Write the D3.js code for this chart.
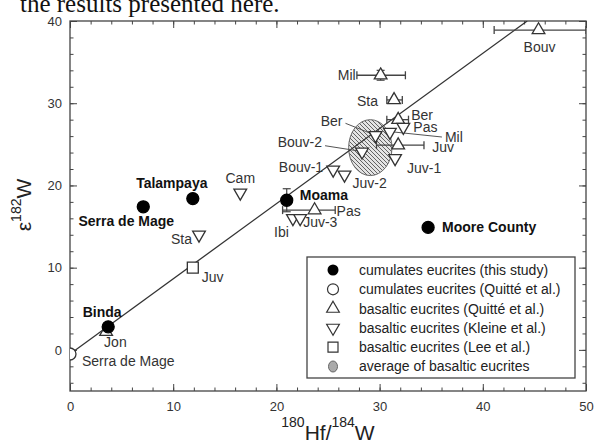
<!DOCTYPE html>
<html lang="en">
<head>
<meta charset="UTF-8">
<title>Hf-W eucrites</title>
<script src="https://cdn.jsdelivr.net/npm/d3@7"></script>
<style>
  body { margin: 0; background: #fff; }
  svg { display: block; font-family: "Liberation Sans", Arial, sans-serif; }
  .tick text { font-size: 13px; fill: #333; }
  .tick line, .domain { stroke: #444; }
  .lbl { font-size: 14px; fill: #333; }
  .lbl.bold { font-weight: bold; fill: #111; }
</style>
</head>
<body>
<div id="chart"></div>
<script>
// --- data (180Hf/184W, epsilon 182W) ---
// cumulate eucrites, this study
const cumNames = ["Binda", "Serra de Mage", "Talampaya", "Moama", "Moore County"];
const cumHf = [3.7, 7.1, 11.9, 21.0, 34.7];
const cumW = [2.8, 17.4, 18.4, 18.2, 14.9];
const cumWErr = [0, 0, 0, 1.4, 0];

// cumulate eucrites, Quitte et al.
const cumQNames = ["Serra de Mage"];
const cumQHf = [0];
const cumQW = [-0.5];

// basaltic eucrites, Quitte et al.
const basQNames = ["Jon", "Pas", "Juv", "Ber", "Sta", "Mil", "Bouv"];
const basQHf = [3.5, 23.7, 31.8, 31.8, 31.4, 30.1, 45.4];
const basQW = [2.2, 17.0, 24.9, 28.0, 30.4, 33.4, 38.9];
const basQHfLo = [3.5, 20.6, 29.7, 30.7, 30.7, 27.8, 41.1];
const basQHfHi = [3.5, 25.7, 34.3, 32.8, 32.2, 32.5, 50.0];
const basQWErr = [0, 0, 0, 0, 0, 0.6, 0];

// basaltic eucrites, Kleine et al.
const basKNames = ["Sta", "Cam", "Ibi", "Juv-3", "Bouv-1", "Juv-2", "Bouv-2", "Ber", "Mil", "Pas", "Juv-1"];
const basKHf = [12.5, 16.5, 21.6, 22.3, 25.5, 26.6, 28.3, 29.6, 31.0, 32.3, 31.5];
const basKW = [14.0, 19.1, 16.0, 16.0, 21.9, 21.3, 24.1, 26.1, 26.5, 27.1, 23.3];

// basaltic eucrites, Lee et al.
const basLNames = ["Juv"];
const basLHf = [11.9];
const basLW = [10.0];

// average of basaltic eucrites (centre and half axes)
const avgHf = 29.1, avgW = 24.6, avgHfHalf = 2.1, avgWHalf = 3.4;

// isochron line
const lineHf = [0, 44.3];
const lineW = [-0.5, 40];

const xTicks = [0, 10, 20, 30, 40, 50];
const yTicks = [0, 10, 20, 30, 40];

const legendItems = [
  "cumulates eucrites (this study)",
  "cumulates eucrites (Quitté et al.)",
  "basaltic eucrites (Quitté et al.)",
  "basaltic eucrites (Kleine et al.)",
  "basaltic eucrites (Lee et al.)",
  "average of basaltic eucrites"
];

// --- label placement (pixels from the point): [dx, dy, anchor] ---
const cumLab = [[-6, -10, "middle"], [-17, 19, "middle"], [-21, -11, "middle"], [13, 0, "start"], [14, 5, "start"]];
const cumQLab = [[12, 12, "start"]];
const basQLab = [[-2, 15, "start"], [22, 6, "start"], [34, 7, "start"], [13, 0, "start"], [-16, 6, "end"], [-25, 5, "end"], [1, 22, "middle"]];
const basKLab = [[-7, 9, "end"], [0, -10, "middle"], [-4, 19, "end"], [3, 9, "start"], [-10, 2, "end"], [8, 13, "start"],
                 [-40, -5, "end"], [-33, -9, "end"], [55, 10, "start"], [10, 5, "start"], [12, 15, "start"]];
const basLLab = [[9, 14, "start"]];
// leader lines for crowded labels: index into basK, from/to offsets
const basKLeaders = [[6, -5, -1, -37, -6], [7, -5, -2, -30, -12], [8, 4, 0, 52, 5]];

const W = 595, H = 441;
const mLeft = 70, mRight = 586, mTop = 21, mBottom = 391;

const svg = d3.select("#chart").append("svg")
  .attr("width", W).attr("height", H);

const x = d3.scaleLinear().domain([0, 50]).range([mLeft, mRight]);
const y = d3.scaleLinear().domain([-5, 40]).range([mBottom, mTop]);

// cut-off text line from the page above
svg.append("text")
  .attr("x", 20).attr("y", 12)
  .attr("font-family", "'Liberation Serif', 'Times New Roman', serif")
  .attr("font-size", 25).attr("fill", "#111")
  .text("the results presented here.");

// hatch pattern for the average ellipse
const defs = svg.append("defs");
const pat = defs.append("pattern").attr("id", "hatch")
  .attr("patternUnits", "userSpaceOnUse").attr("width", 4).attr("height", 4);
pat.append("rect").attr("width", 4).attr("height", 4).attr("fill", "#e4e4e4");
pat.append("path").attr("d", "M-1,-1L5,5M-1,3L1,5M3,-1L5,1")
  .attr("stroke", "#555").attr("stroke-width", 0.9);

defs.append("clipPath").attr("id", "plotclip").append("rect")
  .attr("x", mLeft).attr("y", mTop).attr("width", mRight - mLeft).attr("height", mBottom - mTop);

// axes, ticks inward on all four sides
const minorX = d3.range(0, 51, 2), minorY = d3.range(-4, 41, 2);
function tickAxis(axis, g) {
  g.call(axis);
  g.select(".domain").remove();
}
tickAxis(d3.axisBottom(x).tickValues(minorX).tickSize(-3.5).tickFormat(""),
  svg.append("g").attr("transform", `translate(0,${mBottom})`));
tickAxis(d3.axisBottom(x).tickValues(xTicks).tickSize(-7).tickPadding(11),
  svg.append("g").attr("transform", `translate(0,${mBottom})`));
tickAxis(d3.axisTop(x).tickValues(minorX).tickSize(-3.5).tickFormat(""),
  svg.append("g").attr("transform", `translate(0,${mTop})`));
tickAxis(d3.axisTop(x).tickValues(xTicks).tickSize(-7).tickFormat(""),
  svg.append("g").attr("transform", `translate(0,${mTop})`));
tickAxis(d3.axisLeft(y).tickValues(minorY).tickSize(-3.5).tickFormat(""),
  svg.append("g").attr("transform", `translate(${mLeft},0)`));
tickAxis(d3.axisLeft(y).tickValues(yTicks).tickSize(-7).tickPadding(8),
  svg.append("g").attr("transform", `translate(${mLeft},0)`));
tickAxis(d3.axisRight(y).tickValues(minorY).tickSize(-3.5).tickFormat(""),
  svg.append("g").attr("transform", `translate(${mRight},0)`));
tickAxis(d3.axisRight(y).tickValues(yTicks).tickSize(-7).tickFormat(""),
  svg.append("g").attr("transform", `translate(${mRight},0)`));
svg.selectAll("g[font-family]").attr("font-family", null).attr("font-size", null);

svg.append("rect")
  .attr("x", mLeft).attr("y", mTop).attr("width", mRight - mLeft).attr("height", mBottom - mTop)
  .attr("fill", "none").attr("stroke", "#444").attr("stroke-width", 1.3);

// axis titles
const xt = svg.append("text").attr("x", 328).attr("y", 440)
  .attr("text-anchor", "middle").attr("font-size", 21).attr("fill", "#222");
xt.append("tspan").attr("font-size", 14).attr("dy", -13).text("180");
xt.append("tspan").attr("dy", 13).text("Hf/");
xt.append("tspan").attr("font-size", 14).attr("dy", -13).text("184");
xt.append("tspan").attr("dy", 13).text("W");

const yt = svg.append("text").attr("transform", "translate(31,205) rotate(-90)")
  .attr("text-anchor", "middle").attr("font-size", 21).attr("fill", "#222");
yt.append("tspan").text("ε");
yt.append("tspan").attr("font-size", 14).attr("dy", -10).text("182");
yt.append("tspan").attr("dy", 10).text("W");

const plot = svg.append("g").attr("clip-path", "url(#plotclip)");

// average ellipse
plot.append("ellipse")
  .attr("cx", x(avgHf)).attr("cy", y(avgW))
  .attr("rx", x(avgHf + avgHfHalf) - x(avgHf))
  .attr("ry", y(avgW) - y(avgW + avgWHalf))
  .attr("fill", "url(#hatch)").attr("stroke", "#666").attr("stroke-width", 1);

// isochron
plot.append("line")
  .attr("x1", x(lineHf[0])).attr("y1", y(lineW[0]))
  .attr("x2", x(lineHf[1])).attr("y2", y(lineW[1]))
  .attr("stroke", "#333").attr("stroke-width", 1.3);

// error bars
const errColor = "#444", cap = 4;
function vErr(cx, v, e) {
  plot.append("line").attr("x1", cx).attr("x2", cx)
    .attr("y1", y(v - e)).attr("y2", y(v + e))
    .attr("stroke", errColor).attr("stroke-width", 1.2);
  [v - e, v + e].forEach(t => plot.append("line")
    .attr("x1", cx - cap).attr("x2", cx + cap).attr("y1", y(t)).attr("y2", y(t))
    .attr("stroke", errColor).attr("stroke-width", 1.2));
}
basQHf.forEach((v, i) => {
  if (basQHfHi[i] > basQHfLo[i]) {
    const cy = y(basQW[i]);
    plot.append("line").attr("x1", x(basQHfLo[i])).attr("x2", x(basQHfHi[i]))
      .attr("y1", cy).attr("y2", cy).attr("stroke", errColor).attr("stroke-width", 1.3);
    [basQHfLo[i], basQHfHi[i]].forEach(e => plot.append("line")
      .attr("x1", x(e)).attr("x2", x(e)).attr("y1", cy - cap).attr("y2", cy + cap)
      .attr("stroke", errColor).attr("stroke-width", 1.3));
  }
  if (basQWErr[i] > 0) vErr(x(v), basQW[i], basQWErr[i]);
});
cumHf.forEach((v, i) => {
  if (cumWErr[i] > 0) vErr(x(v), cumW[i], cumWErr[i]);
});

// leader lines
basKLeaders.forEach(([i, fx, fy, tx, ty]) => {
  const px = x(basKHf[i]), py = y(basKW[i]);
  plot.append("line").attr("x1", px + fx).attr("y1", py + fy)
    .attr("x2", px + tx).attr("y2", py + ty)
    .attr("stroke", "#555").attr("stroke-width", 1);
});

// markers
const triPath = d3.symbol().type(d3.symbolTriangle).size(70)();
const sqPath = d3.symbol().type(d3.symbolSquare).size(120)();
const stroke = "#333";

function drawSymbols(hf, w, path, rot) {
  plot.append("g").selectAll("path")
    .data(hf.map((v, i) => [v, w[i]]))
    .join("path")
    .attr("d", path)
    .attr("transform", d => `translate(${x(d[0])},${y(d[1])})` + (rot ? " rotate(180)" : ""))
    .attr("fill", "#fff").attr("stroke", stroke).attr("stroke-width", 1.3);
}
function drawCircles(hf, w, filled) {
  plot.append("g").selectAll("circle")
    .data(hf.map((v, i) => [v, w[i]]))
    .join("circle")
    .attr("cx", d => x(d[0])).attr("cy", d => y(d[1])).attr("r", 6)
    .attr("fill", filled ? "#000" : "#fff")
    .attr("stroke", filled ? "#000" : stroke).attr("stroke-width", 1.3);
}
drawSymbols(basQHf, basQW, triPath, false);
drawSymbols(basKHf, basKW, triPath, true);
drawSymbols(basLHf, basLW, sqPath, false);
drawCircles(cumQHf, cumQW, false);
drawCircles(cumHf, cumW, true);

// point labels
function drawLabels(names, hf, w, pos, bold) {
  svg.append("g").selectAll("text")
    .data(names)
    .join("text")
    .attr("class", bold ? "lbl bold" : "lbl")
    .attr("x", (d, i) => x(hf[i]) + pos[i][0])
    .attr("y", (d, i) => y(w[i]) + pos[i][1])
    .attr("text-anchor", (d, i) => pos[i][2])
    .text(d => d);
}
drawLabels(cumNames, cumHf, cumW, cumLab, true);
drawLabels(cumQNames, cumQHf, cumQW, cumQLab, false);
drawLabels(basQNames, basQHf, basQW, basQLab, false);
drawLabels(basKNames, basKHf, basKW, basKLab, false);
drawLabels(basLNames, basLHf, basLW, basLLab, false);

// legend
const lg = svg.append("g").attr("transform", "translate(307,257)");
lg.append("rect").attr("width", 268).attr("height", 121)
  .attr("fill", "#fff").attr("stroke", "#444").attr("stroke-width", 1.3);
const rowY = i => 13 + i * 19.3;
const symX = 26;
lg.append("circle").attr("cx", symX).attr("cy", rowY(0)).attr("r", 5.5).attr("fill", "#000");
lg.append("circle").attr("cx", symX).attr("cy", rowY(1)).attr("r", 5.5)
  .attr("fill", "#fff").attr("stroke", stroke).attr("stroke-width", 1.2);
lg.append("path").attr("d", triPath).attr("transform", `translate(${symX},${rowY(2)})`)
  .attr("fill", "#fff").attr("stroke", stroke).attr("stroke-width", 1.2);
lg.append("path").attr("d", triPath).attr("transform", `translate(${symX},${rowY(3)}) rotate(180)`)
  .attr("fill", "#fff").attr("stroke", stroke).attr("stroke-width", 1.2);
lg.append("path").attr("d", d3.symbol().type(d3.symbolSquare).size(100)())
  .attr("transform", `translate(${symX},${rowY(4)})`)
  .attr("fill", "#fff").attr("stroke", stroke).attr("stroke-width", 1.2);
lg.append("ellipse").attr("cx", symX).attr("cy", rowY(5)).attr("rx", 4.5).attr("ry", 5.5)
  .attr("fill", "#aaa").attr("stroke", "#666").attr("stroke-width", 1);
lg.selectAll("text.leg").data(legendItems).join("text")
  .attr("class", "leg")
  .attr("x", 52).attr("y", (d, i) => rowY(i)).attr("dy", "0.35em")
  .attr("font-size", 14).attr("fill", "#222")
  .text(d => d);
</script>
</body>
</html>
